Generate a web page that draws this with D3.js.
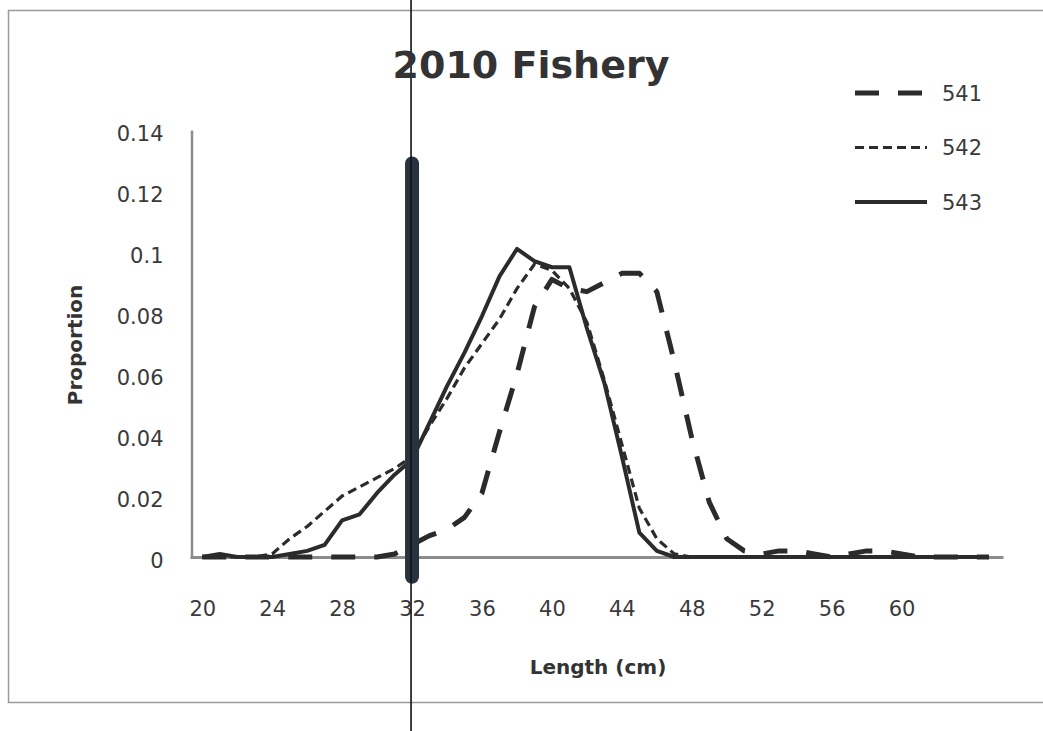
<!DOCTYPE html>
<html>
<head>
<meta charset="utf-8">
<script src="https://cdn.jsdelivr.net/npm/d3@7"></script>
<style>
  html, body { margin: 0; padding: 0; background: #fff; }
  svg { display: block; }
  .tick text { font-family: "DejaVu Sans", sans-serif; fill: #3a3a3a; }
</style>
</head>
<body>
<div id="chart"></div>
<script>
// lengths (cm) and proportion per series
const lengths = [20, 21, 22, 23, 24, 25, 26, 27, 28, 29, 30, 31, 32, 33, 34, 35, 36, 37, 38, 39, 40, 41, 42,
  43, 44, 45, 46, 47, 48, 49, 50, 51, 52, 53, 54, 55, 56, 57, 58, 59, 60, 61, 62, 63, 64, 65];

const s541 = [0, 0, 0, 0, 0, 0, 0, 0, 0, 0, 0, 0.001, 0.004, 0.007, 0.009, 0.013, 0.021, 0.041, 0.06, 0.082, 0.091, 0.088, 0.087,
  0.09, 0.093, 0.093, 0.087, 0.064, 0.039, 0.018, 0.006, 0.002, 0.001, 0.002, 0.002, 0.001, 0, 0.001, 0.002, 0.002, 0.001, 0, 0, 0, 0, 0];

const s542 = [0, 0, 0, 0, 0.001, 0.006, 0.01, 0.015, 0.02, 0.023, 0.026, 0.029, 0.033, 0.043, 0.052, 0.062, 0.07, 0.078, 0.088, 0.096, 0.094, 0.088, 0.077,
  0.058, 0.037, 0.016, 0.006, 0.001, 0, 0, 0, 0, 0, 0, 0, 0, 0, 0, 0, 0, 0, 0, 0, 0, 0, 0];

const s543 = [0, 0.001, 0, 0, 0, 0.001, 0.002, 0.004, 0.012, 0.014, 0.021, 0.027, 0.032, 0.044, 0.056, 0.067, 0.079, 0.092, 0.101, 0.097, 0.095, 0.095, 0.075,
  0.057, 0.033, 0.008, 0.002, 0, 0, 0, 0, 0, 0, 0, 0, 0, 0, 0, 0, 0, 0, 0, 0, 0, 0, 0];

const seriesNames = ['541', '542', '543'];
const xTicks = [20, 24, 28, 32, 36, 40, 44, 48, 52, 56, 60];
const yTicks = [0, 0.02, 0.04, 0.06, 0.08, 0.1, 0.12, 0.14];

// hand-drawn marker on the scan
const markerLength = 32;
const markerSpan = [-0.0065, 0.129];

const W = 1043, H = 731;
const ink = '#2b2b2b';

const svg = d3.select('#chart').append('svg')
  .attr('width', W)
  .attr('height', H);

svg.append('rect').attr('width', W).attr('height', H).attr('fill', '#fff');

// outer chart frame
svg.append('rect')
  .attr('x', 8.5).attr('y', 10.5)
  .attr('width', W + 20).attr('height', 692)
  .attr('fill', 'none')
  .attr('stroke', '#9a9a9a')
  .attr('stroke-width', 1.5);

const x = d3.scaleLinear().domain([19.3, 65.8]).range([190, 1003]);
const y = d3.scaleLinear().domain([0, 0.14]).range([557, 130]);

// axes
const xAxis = svg.append('g')
  .attr('transform', `translate(0,${y(0)})`)
  .call(d3.axisBottom(x).tickValues(xTicks).tickSize(0).tickPadding(44).tickSizeOuter(0));
xAxis.select('.domain').attr('stroke', '#8c8c8c').attr('stroke-width', 3);
xAxis.selectAll('.tick text').attr('font-size', 21);

const yAxis = svg.append('g')
  .attr('transform', 'translate(191.5,0)')
  .call(d3.axisLeft(y).tickValues(yTicks).tickSize(0).tickPadding(28).tickSizeOuter(0)
    .tickFormat(d => d === 0 ? '0' : String(+d.toFixed(2))));
yAxis.select('.domain').attr('stroke', '#8c8c8c').attr('stroke-width', 2.5);
yAxis.selectAll('.tick text').attr('font-size', 21).attr('dy', '0.5em');

// series
const line = d3.line()
  .x((d, i) => x(lengths[i]))
  .y(d => y(d));

const styles = {
  '541': { data: s541, width: 5, dash: '24,19' },
  '542': { data: s542, width: 3.2, dash: '9,5' },
  '543': { data: s543, width: 4, dash: null },
};

seriesNames.forEach(name => {
  const st = styles[name];
  svg.append('path')
    .attr('d', line(st.data))
    .attr('fill', 'none')
    .attr('stroke', ink)
    .attr('stroke-width', st.width)
    .attr('stroke-linejoin', 'round')
    .attr('stroke-dasharray', st.dash);
});

// marker pen stroke + thin fold line from the scan
svg.append('line')
  .attr('x1', x(markerLength)).attr('x2', x(markerLength))
  .attr('y1', y(markerSpan[1])).attr('y2', y(markerSpan[0]))
  .attr('stroke', '#29333f')
  .attr('stroke-width', 14)
  .attr('stroke-linecap', 'round');

svg.append('line')
  .attr('x1', x(markerLength) - 1).attr('x2', x(markerLength) - 1)
  .attr('y1', 0).attr('y2', H)
  .attr('stroke', '#111')
  .attr('stroke-width', 1.6);

// title + axis titles
svg.append('text')
  .attr('x', 531).attr('y', 78)
  .attr('text-anchor', 'middle')
  .attr('font-family', '"DejaVu Sans", sans-serif')
  .attr('font-weight', 'bold')
  .attr('font-size', 38)
  .attr('fill', '#333')
  .text('2010 Fishery');

svg.append('text')
  .attr('transform', 'translate(82,345) rotate(-90)')
  .attr('text-anchor', 'middle')
  .attr('font-family', '"DejaVu Sans", sans-serif')
  .attr('font-weight', 'bold')
  .attr('font-size', 20)
  .attr('fill', '#333')
  .text('Proportion');

svg.append('text')
  .attr('x', 598).attr('y', 674)
  .attr('text-anchor', 'middle')
  .attr('font-family', '"DejaVu Sans", sans-serif')
  .attr('font-weight', 'bold')
  .attr('font-size', 20)
  .attr('fill', '#333')
  .text('Length (cm)');

// legend
const legend = svg.append('g').attr('transform', 'translate(855,93)');
seriesNames.forEach((name, i) => {
  const st = styles[name];
  const g = legend.append('g').attr('transform', `translate(0,${i * 54.5})`);
  g.append('line')
    .attr('x1', 0).attr('x2', 72)
    .attr('stroke', ink)
    .attr('stroke-width', st.width)
    .attr('stroke-dasharray', st.dash);
  g.append('text')
    .attr('x', 87).attr('dy', '0.36em')
    .attr('font-family', '"DejaVu Sans", sans-serif')
    .attr('font-size', 21)
    .attr('fill', '#3a3a3a')
    .text(name);
});
</script>
</body>
</html>
